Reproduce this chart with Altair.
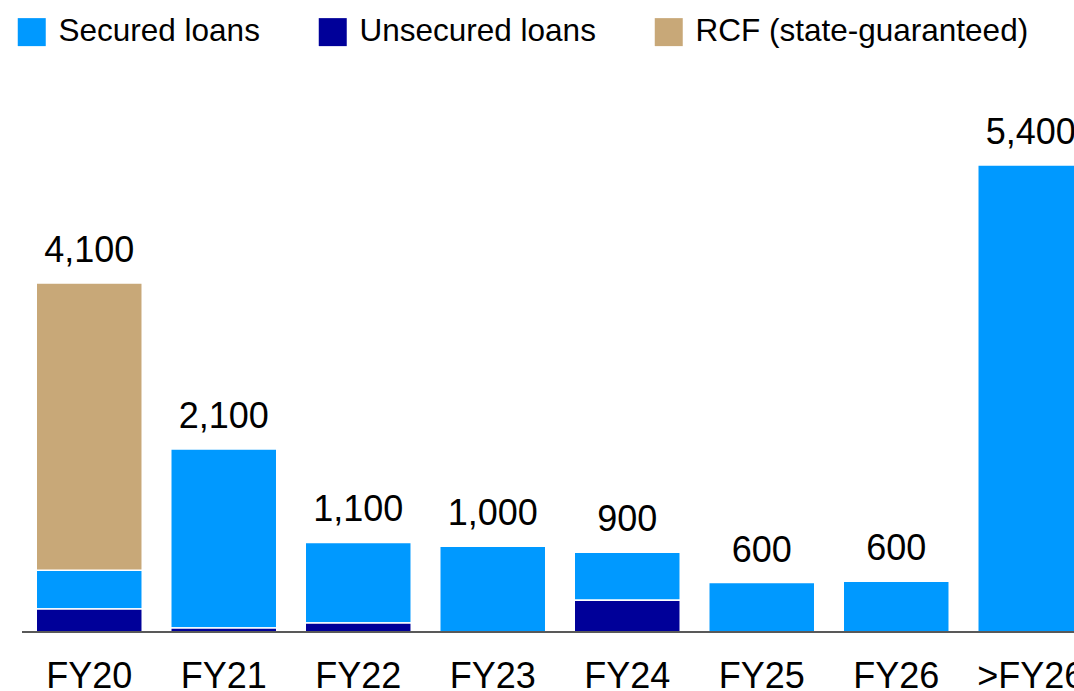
import altair as alt
import pandas as pd

categories = ["FY20", "FY21", "FY22", "FY23", "FY24", "FY25", "FY26", ">FY26"]
unsecured = [265, 45, 105, 0, 367, 0, 0, 0]
secured = [450, 2071, 930, 991, 555, 572, 587, 5400]
rcf = [3320, 0, 0, 0, 0, 0, 0, 0]
total_labels = ["4,100", "2,100", "1,100", "1,000", "900", "600", "600", "5,400"]

series_names = ["Secured loans", "Unsecured loans", "RCF (state-guaranteed)"]
series_colors = ["#0099FF", "#000099", "#C8A878"]
stack_order = {"Unsecured loans": 0, "Secured loans": 1, "RCF (state-guaranteed)": 2}

rows = []
for i, c in enumerate(categories):
    for name, vals in zip(series_names, [secured, unsecured, rcf]):
        if vals[i] > 0:
            rows.append({"cat": c, "series": name, "value": vals[i], "ord": stack_order[name]})
df = pd.DataFrame(rows)

tot = pd.DataFrame({
    "cat": categories,
    "total": [u + s + r for u, s, r in zip(unsecured, secured, rcf)],
    "label": total_labels,
})

FONT = "Liberation Sans"
xscale = alt.Scale(domain=categories, range=[0, 1076], paddingInner=0.212, paddingOuter=0.106)
yscale = alt.Scale(domain=[0, 7308], nice=False, zero=True)

bars = alt.Chart(df).mark_bar(stroke="white", strokeWidth=1.5).encode(
    x=alt.X("cat:N", scale=xscale, sort=categories,
            axis=alt.Axis(title=None, domain=False, ticks=False, labelAngle=0,
                          labelFontSize=36, labelFont=FONT, labelColor="black",
                          labelPadding=27, labelOverlap=False, labelLimit=300)),
    y=alt.Y("value:Q", stack="zero", scale=yscale, axis=None),
    color=alt.Color("series:N", sort=series_names,
                    scale=alt.Scale(domain=series_names, range=series_colors),
                    legend=alt.Legend(title=None, orient="none", direction="horizontal",
                                      legendX=-6, legendY=16, symbolType="square",
                                      symbolSize=784, symbolStrokeWidth=0,
                                      labelFontSize=31.5, labelFont=FONT, labelColor="black",
                                      labelOffset=11, columnPadding=57, labelLimit=400,
                                      padding=0)),
    order=alt.Order("ord:Q"),
)

labels = alt.Chart(tot).mark_text(dy=-21, baseline="alphabetic", fontSize=36, font=FONT,
                                  color="black").encode(
    x=alt.X("cat:N", scale=xscale, sort=categories),
    y=alt.Y("total:Q", scale=yscale),
    text="label:N",
)

baseline = alt.Chart(tot).mark_rule(color="#595959", strokeWidth=2).encode(
    x=alt.value(0), x2=alt.value(1060), y=alt.value(632)
)

chart = alt.layer(bars, labels, baseline).properties(
    width=1052, height=632,
    autosize=alt.AutoSizeParams(type="none"),
    padding={"left": 22, "top": 0, "right": 0, "bottom": 59},
).configure_view(stroke=None)

chart.save("out.html", embed_options={"renderer": "svg", "actions": False})
